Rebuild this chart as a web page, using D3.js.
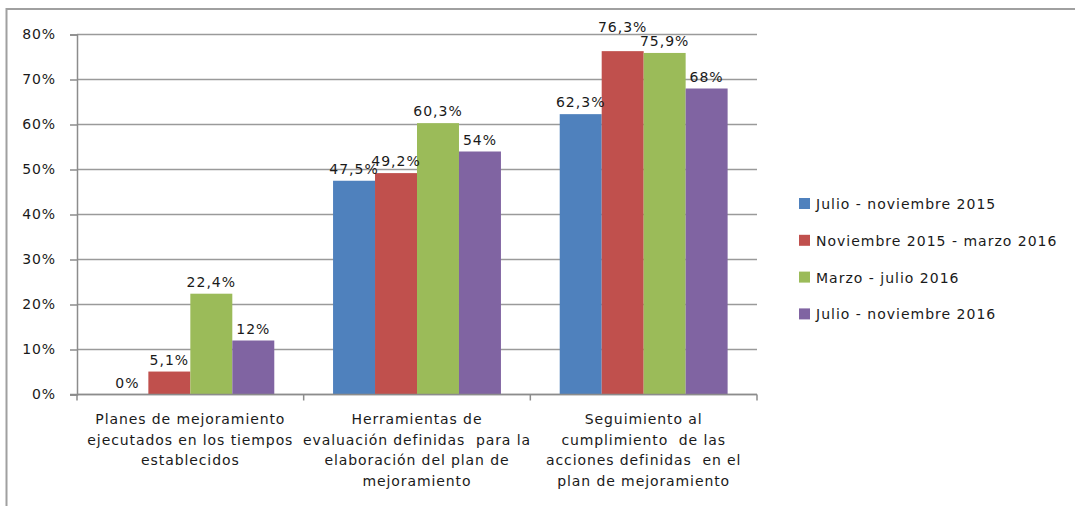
<!DOCTYPE html>
<html>
<head>
<meta charset="utf-8">
<script src="https://cdn.jsdelivr.net/npm/d3@7"></script>
<style>
  html, body { margin: 0; padding: 0; background: #fff; }
  svg { display: block; font-family: "DejaVu Sans", Verdana, sans-serif; }
</style>
</head>
<body>
<svg id="chart" width="1075" height="506"></svg>
<script>
// Categories (one entry per group, lines separated by "\n")
const categories = [
  "Planes de mejoramiento\nejecutados en los tiempos\nestablecidos",
  "Herramientas de\nevaluación definidas  para la\nelaboración del plan de\nmejoramiento",
  "Seguimiento al\ncumplimiento  de las\nacciones definidas  en el\nplan de mejoramiento"
];

// Periods (series)
const series = [
  "Julio - noviembre 2015",
  "Noviembre 2015 - marzo 2016",
  "Marzo - julio 2016",
  "Julio - noviembre 2016"
];

// Percentages per period, in category order
const julNov2015 = [0, 47.5, 62.3];
const nov2015Mar2016 = [5.1, 49.2, 76.3];
const marJul2016 = [22.4, 60.3, 75.9];
const julNov2016 = [12, 54, 68];

const yTicks = [0, 10, 20, 30, 40, 50, 60, 70, 80];

const colors = ["#4F81BD", "#C0504D", "#9BBB59", "#8064A2"];

const seriesValues = [julNov2015, nov2015Mar2016, marJul2016, julNov2016];

const svg = d3.select("#chart");

// Outer chart frame
svg.append("rect")
  .attr("x", 6.5).attr("y", 9)
  .attr("width", 1100).attr("height", 520)
  .attr("fill", "#fff")
  .attr("stroke", "#a0a0a0")
  .attr("stroke-width", 2);

const plot = { left: 77, right: 757, top: 34.5, bottom: 394.5 };

const x = d3.scaleBand()
  .domain(categories)
  .range([plot.left, plot.right])
  .paddingInner(0).paddingOuter(0);

const x1 = d3.scaleBand()
  .domain(series)
  .range([0, x.bandwidth()])
  .paddingInner(0)
  .paddingOuter(0.7);

const y = d3.scaleLinear()
  .domain([0, 80])
  .range([plot.bottom, plot.top]);

const locale = d3.formatLocale({ decimal: ",", thousands: ".", grouping: [3], currency: ["", "€"] });
const fmtDec = locale.format(".1f");
const labelText = v => (Number.isInteger(v) ? String(v) : fmtDec(v)) + "%";

// Horizontal gridlines
svg.append("g")
  .selectAll("line")
  .data(yTicks)
  .join("line")
  .attr("x1", plot.left).attr("x2", plot.right)
  .attr("y1", d => y(d)).attr("y2", d => y(d))
  .attr("stroke", "#9a9a9a")
  .attr("stroke-width", 1.5);

// Y axis
const yAxis = svg.append("g")
  .attr("transform", `translate(${plot.left},0)`)
  .call(d3.axisLeft(y).tickValues(yTicks).tickSize(7).tickPadding(14)
    .tickFormat(d => d + "%"));
yAxis.select(".domain").attr("stroke", "#8c8c8c").attr("stroke-width", 1.5);
yAxis.selectAll(".tick line").attr("stroke", "#8c8c8c").attr("stroke-width", 1.5);
yAxis.selectAll(".tick text")
  .attr("font-family", "DejaVu Sans, Verdana, sans-serif")
  .attr("font-size", 14)
  .attr("letter-spacing", 0.9)
  .attr("fill", "#1a1a1a");

// Bars
const groups = svg.append("g")
  .selectAll("g")
  .data(categories)
  .join("g")
  .attr("transform", d => `translate(${x(d)},0)`);

groups.selectAll("rect")
  .data((c, ci) => series.map((s, si) => ({ s, si, v: seriesValues[si][ci] })))
  .join("rect")
  .attr("x", d => x1(d.s))
  .attr("width", x1.bandwidth())
  .attr("y", d => y(d.v))
  .attr("height", d => y(0) - y(d.v))
  .attr("fill", d => colors[d.si]);

// Value labels
groups.selectAll("text.val")
  .data((c, ci) => series.map((s, si) => ({ s, si, v: seriesValues[si][ci] })))
  .join("text")
  .attr("class", "val")
  .attr("x", d => x1(d.s) + x1.bandwidth() / 2)
  .attr("y", d => y(d.v) - 7)
  .attr("text-anchor", "middle")
  .attr("font-size", 14)
  .attr("letter-spacing", 1)
  .attr("fill", "#1a1a1a")
  .text(d => labelText(d.v));

// Lift a label above its neighbour when both sit at nearly the same height
groups.each(function() {
  const labels = d3.select(this).selectAll("text.val").nodes();
  for (let i = 1; i < labels.length; i++) {
    const a = labels[i - 1], b = labels[i];
    const ya = +a.getAttribute("y"), yb = +b.getAttribute("y");
    if (Math.abs(ya - yb) < 5) {
      const [hi, lo] = ya <= yb ? [a, yb] : [b, ya];
      hi.setAttribute("y", lo - 14);
    }
  }
});

// X axis line with boundary ticks
svg.append("line")
  .attr("x1", plot.left - 7).attr("x2", plot.right)
  .attr("y1", plot.bottom).attr("y2", plot.bottom)
  .attr("stroke", "#8c8c8c").attr("stroke-width", 1.5);

const bounds = categories.map(c => x(c)).concat([x(categories[categories.length - 1]) + x.bandwidth()]);
svg.append("g")
  .selectAll("line")
  .data(bounds)
  .join("line")
  .attr("x1", d => d).attr("x2", d => d)
  .attr("y1", plot.bottom).attr("y2", plot.bottom + 6)
  .attr("stroke", "#8c8c8c").attr("stroke-width", 1.5);

// Category labels
svg.append("g")
  .selectAll("text")
  .data(categories)
  .join("text")
  .attr("text-anchor", "middle")
  .attr("font-size", 14)
  .attr("letter-spacing", 0.9)
  .attr("fill", "#1a1a1a")
  .each(function(d) {
    const t = d3.select(this);
    const cx = x(d) + x.bandwidth() / 2;
    d.split("\n").forEach((line, i) => {
      t.append("tspan")
        .attr("x", cx)
        .attr("y", 424 + i * 20.5)
        .attr("xml:space", "preserve")
        .text(line);
    });
  });

// Legend
const legend = svg.append("g")
  .selectAll("g")
  .data(series)
  .join("g")
  .attr("transform", (d, i) => `translate(799,${198 + i * 36.8})`);

legend.append("rect")
  .attr("width", 11).attr("height", 11)
  .attr("fill", (d, i) => colors[i]);

legend.append("text")
  .attr("x", 17).attr("y", 11)
  .attr("font-size", 14)
  .attr("letter-spacing", 1)
  .attr("fill", "#1a1a1a")
  .text(d => d);
</script>
</body>
</html>
